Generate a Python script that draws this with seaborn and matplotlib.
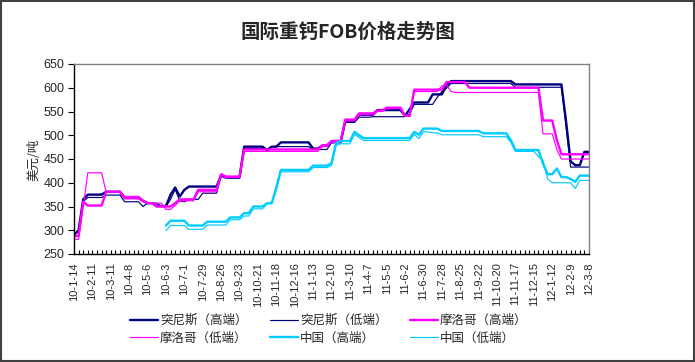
import numpy as np
import matplotlib
matplotlib.use("Agg")
import matplotlib.pyplot as plt
import seaborn as sns
from matplotlib.lines import Line2D
from matplotlib.patches import Rectangle

nan = np.nan

# x-axis labels (every 4th weekly category)
date_labels = ["10-1-14", "10-2-11", "10-3-11", "10-4-8", "10-5-6", "10-6-3", "10-7-1",
               "10-7-29", "10-8-26", "10-9-23", "10-10-21", "10-11-18", "10-12-16",
               "11-1-13", "11-2-10", "11-3-10", "11-4-7", "11-5-5", "11-6-2", "11-6-30",
               "11-7-28", "11-8-25", "11-9-22", "11-10-20", "11-11-17", "11-12-15",
               "12-1-12", "12-2-9", "12-3-8"]

series_names = ["突尼斯（高端）", "突尼斯（低端）", "摩洛哥（高端）",
                "摩洛哥（低端）", "中国（高端）", "中国（低端）"]

tunisia_high = [290, 300, 365, 375, 375, 375, 375, 381, 381, 381, 381, 369,
                369, 369, 369, 362, 357, 357, 351, 351, 351, 375, 390, 371,
                385, 392, 392, 392, 392, 392, 392, 392, 416, 411, 411, 411,
                411, 476, 476, 476, 476, 476, 469, 476, 476, 485, 485, 485,
                485, 485, 485, 485, 472, 472, 478, 478, 486, 486, 486, 530,
                530, 530, 543, 543, 543, 543, 553, 553, 553, 553, 553, 553,
                541, 555, 569, 569, 569, 569, 586, 586, 586, 605, 614, 614,
                614, 614, 614, 614, 614, 614, 614, 614, 614, 614, 614, 614,
                607, 607, 607, 607, 607, 607, 607, 607, 607, 607, 607, 530,
                445, 437, 437, 465, 465]

tunisia_low = [290, 300, 360, 369, 369, 369, 369, 374, 374, 374, 374, 360,
               360, 360, 360, 350, 357, 357, 357, 350, 350, 365, 386, 362,
               360, 365, 365, 365, 378, 378, 378, 378, 414, 410, 410, 410,
               410, 472, 472, 472, 472, 472, 468, 476, 476, 476, 476, 476,
               476, 476, 476, 476, 470, 470, 470, 470, 484, 484, 484, 527,
               527, 527, 538, 538, 538, 539, 539, 539, 539, 539, 539, 539,
               539, 545, 565, 565, 565, 565, 565, 580, 592, 599, 609, 609,
               609, 609, 609, 609, 609, 609, 609, 609, 609, 609, 609, 609,
               601, 601, 601, 601, 601, 601, 601, 601, 601, 601, 601, 520,
               433, 433, 433, 433, 433]

morocco_high = [288, 288, 360, 352, 352, 352, 352, 381, 381, 381, 381, 370,
                370, 370, 370, 362, 357, 357, 350, 350, 350, 350, 357, 365,
                365, 365, 365, 385, 385, 385, 385, 385, 418, 413, 413, 413,
                413, 470, 470, 470, 470, 470, 470, 470, 470, 470, 470, 470,
                470, 470, 470, 470, 470, 470, 479, 479, 488, 488, 488, 533,
                533, 533, 546, 546, 546, 546, 552, 552, 558, 558, 558, 558,
                541, 541, 596, 596, 596, 596, 596, 596, 596, 612, 612, 612,
                612, 612, 600, 600, 600, 600, 600, 600, 600, 600, 600, 600,
                600, 600, 600, 600, 600, 600, 531, 531, 531, 490, 460, 460,
                460, 460, 460, 460, 460]

morocco_low = [281, 281, 350, 421, 421, 421, 421, 380, 380, 380, 380, 366,
               366, 366, 366, 360, 357, 357, 357, 357, 344, 344, 352, 362,
               362, 362, 362, 381, 381, 381, 381, 381, 416, 411, 411, 411,
               411, 466, 466, 466, 466, 466, 466, 466, 466, 466, 466, 466,
               466, 466, 466, 466, 466, 466, 476, 476, 485, 485, 485, 530,
               530, 530, 543, 543, 543, 543, 550, 550, 556, 556, 556, 556,
               540, 540, 592, 592, 592, 592, 592, 592, 604, 606, 592, 590,
               590, 590, 590, 590, 590, 590, 590, 590, 590, 590, 590, 590,
               590, 590, 590, 590, 590, 590, 503, 503, 503, 470, 450, 450,
               450, 450, 450, 450, 450]

china_high = [nan, nan, nan, nan, nan, nan, nan, nan, nan, nan, nan, nan,
              nan, nan, nan, nan, nan, nan, nan, nan, 310, 320, 320, 320,
              320, 310, 310, 310, 310, 318, 318, 318, 318, 318, 327, 327,
              327, 336, 336, 350, 350, 350, 357, 357, 390, 427, 427, 427,
              427, 427, 427, 427, 436, 436, 436, 436, 441, 484, 488, 488,
              488, 507, 500, 494, 494, 494, 494, 494, 494, 494, 494, 494,
              494, 494, 507, 501, 514, 514, 514, 514, 509, 509, 509, 509,
              509, 509, 509, 509, 509, 504, 504, 504, 504, 504, 504, 490,
              469, 469, 469, 469, 469, 469, 440, 418, 418, 430, 412, 412,
              408, 402, 415, 415, 415]

china_low = [nan, nan, nan, nan, nan, nan, nan, nan, nan, nan, nan, nan,
             nan, nan, nan, nan, nan, nan, nan, nan, 299, 310, 310, 310,
             310, 302, 302, 302, 302, 311, 311, 311, 311, 311, 322, 322,
             322, 330, 330, 345, 345, 345, 356, 356, 385, 423, 423, 423,
             423, 423, 423, 423, 432, 432, 432, 432, 436, 479, 482, 482,
             482, 502, 495, 489, 489, 489, 489, 489, 489, 489, 489, 489,
             489, 489, 502, 493, 507, 507, 505, 505, 501, 501, 501, 501,
             501, 501, 501, 501, 501, 497, 497, 497, 497, 497, 497, 485,
             466, 466, 466, 466, 466, 455, 447, 408, 400, 400, 400, 400,
             400, 388, 405, 405, 405]

series_values = [tunisia_high, tunisia_low, morocco_high, morocco_low, china_high, china_low]
colors = ["#000080", "#000080", "#FF00FF", "#FF00FF", "#00CCFF", "#00CCFF"]
widths = [1.7, 0.85, 1.7, 0.85, 1.7, 0.85]

sns.set_theme(style="white")
plt.rcParams["font.family"] = ["Liberation Sans", "Noto Sans CJK SC", "DejaVu Sans"]
cjk = ["Noto Sans CJK SC", "DejaVu Sans"]

fig = plt.figure(figsize=(6.95, 3.62), dpi=100, facecolor="white")
ax = fig.add_axes([74 / 695, 1 - 254 / 362, (589 - 74) / 695, (254 - 64) / 362])
ax.set_facecolor("white")

weeks = np.arange(len(tunisia_high))
handles = []
for vals, c, lw, name in zip(series_values, colors, widths, series_names):
    sns.lineplot(x=weeks, y=np.array(vals, dtype=float), color=c, linewidth=lw, ax=ax)
    handles.append(Line2D([0], [0], color=c, linewidth=lw))

ax.set_xlim(0, len(weeks) - 1)
ax.set_ylim(250, 650)
ax.set_yticks(range(250, 651, 50))
ax.set_xticks(np.arange(0, len(weeks), 4))
ax.set_xticklabels(date_labels, rotation=90)
ax.set_xticks(np.arange(0, len(weeks), 1), minor=True)
ax.set_xlabel("")
ax.set_ylabel("")
ax.tick_params(axis="x", which="both", bottom=True, direction="in", length=3,
               width=0.8, color="black", pad=6, labelsize=8)
ax.tick_params(axis="y", which="major", left=True, direction="out", length=4,
               width=0.8, color="black", pad=3, labelsize=9)
for side in ["left", "bottom"]:
    ax.spines[side].set_color("black")
    ax.spines[side].set_linewidth(1.0)
for side in ["top", "right"]:
    ax.spines[side].set_color("#808080")
    ax.spines[side].set_linewidth(1.0)
ax.grid(False)

fig.text(348 / 695, 1 - 32 / 362, "国际重钙FOB价格走势图", ha="center", va="center",
         fontsize=14, fontweight="bold", family=cjk)
fig.text(34 / 695, 1 - 160 / 362, "美元/吨", rotation=90, ha="center", va="center",
         fontsize=9, family=cjk)

order = [0, 3, 1, 4, 2, 5]
fig.legend([handles[i] for i in order], [series_names[i] for i in order],
           loc="upper left", bbox_to_anchor=(130 / 695, 1 - 314 / 362), ncol=3,
           frameon=False, prop={"family": cjk, "size": 9}, handlelength=2.2,
           handletextpad=0.2, columnspacing=1.8, borderpad=0, borderaxespad=0,
           labelspacing=0.35)

fig.add_artist(Rectangle((0.001, 0.002), 0.997, 0.996, transform=fig.transFigure,
                         fill=False, edgecolor="#404040", linewidth=1.5))

fig.savefig("out.png", dpi=100, facecolor="white")
